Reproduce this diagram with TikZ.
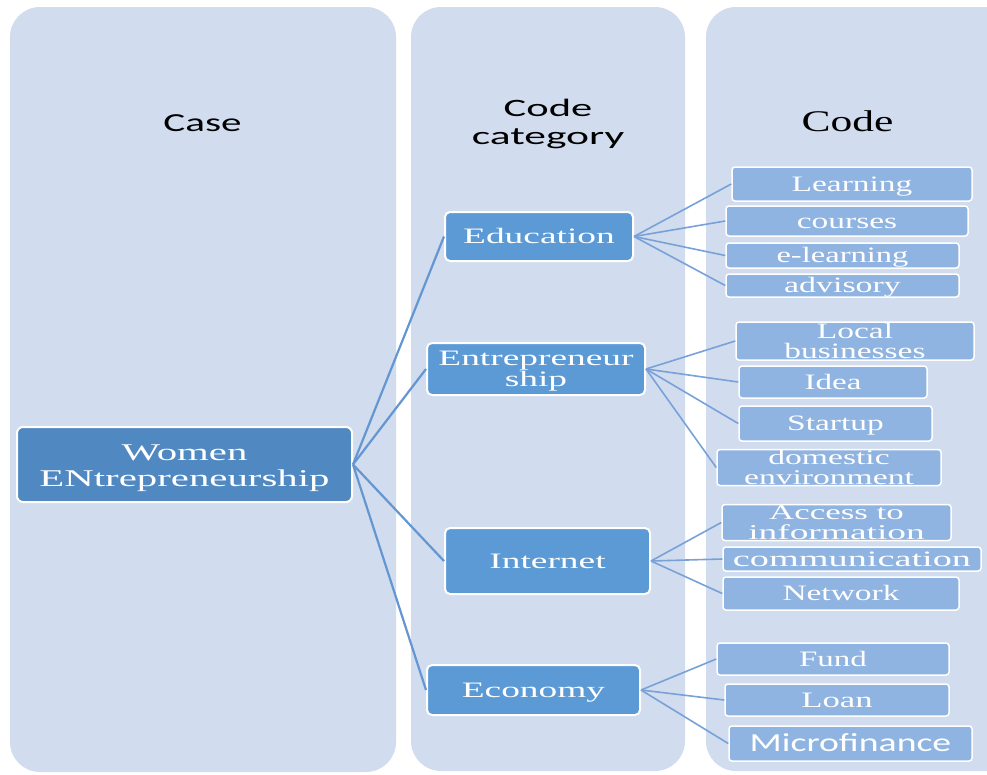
\documentclass[tikz,border=0pt]{standalone}
\usepackage{fontspec}
\setmainfont{Liberation Serif}
\newfontfamily\calfont{Carlito}
\usepackage{graphicx}
\newcommand{\hs}[2]{\scalebox{#1}[1]{#2}}
\definecolor{panelc}{RGB}{209,220,238}
\definecolor{womenc}{RGB}{80,136,194}
\definecolor{catc}{RGB}{92,154,214}
\definecolor{codec}{RGB}{143,180,225}
\definecolor{linec}{RGB}{100,150,210}
\definecolor{linec2}{RGB}{120,162,215}
\tikzset{
  panel/.style={fill=panelc, rounded corners=30pt},
  hdr/.style={text=black, inner sep=0pt, anchor=base},
  women/.style={draw=white, line width=2pt, fill=womenc, rounded corners=6pt, text=white, inner sep=0pt, align=center, font=\fontsize{24pt}{26pt}\selectfont},
  cat/.style={draw=white, line width=2pt, fill=catc, rounded corners=5pt, text=white, inner sep=0pt, align=center, font=\fontsize{22pt}{21pt}\selectfont},
  codebox/.style={draw=white, line width=1.5pt, fill=codec, rounded corners=3pt, text=white, inner sep=0pt, align=center, font=\fontsize{22pt}{20pt}\selectfont},
  oneline/.style={text height=14.5pt, text depth=0pt},
  mainline/.style={draw=linec, line width=2.2pt},
  codeline/.style={draw=linec2, line width=1.6pt}
}
\begin{document}
\begin{tikzpicture}[x=1pt,y=-1pt]
\useasboundingbox (0,0) rectangle (987,774);
\clip (0,0) rectangle (987,774);
\fill[white] (0,0) rectangle (987,774);
% panels
\fill[panel] (10,7) rectangle (396,772);
\fill[panel] (411,7) rectangle (685,771);
\fill[panel] (706,7) rectangle (1030,771);
% headers
\node[hdr, font=\calfont\fontsize{26pt}{28pt}\selectfont] (hcase) at (202.5,131) {\hs{1.58}{Case}};
\node[text=black, inner sep=0pt, align=center, font=\calfont\fontsize{25pt}{28pt}\selectfont] (hcat) at (548,124) {\hs{1.7}{Code}\\\hs{1.74}{category}};
\node[hdr, font=\fontsize{30pt}{32pt}\selectfont] (hcode) at (847.5,131) {\hs{1.45}{Code}};
% main node
\node[women, minimum width=335pt, minimum height=75pt] (we) at (184.5,464.5) {\rule{0pt}{24pt}\hs{1.7}{Women}\\\hs{1.7}{ENtrepreneurship}};
% categories
\node[cat, oneline, minimum width=188pt, minimum height=49pt] (edu) at (539,236.5) {\hs{1.7}{Education}};
\node[cat, minimum width=218pt, minimum height=52pt] (ent) at (536,369) {\rule{0pt}{18.5pt}\hs{1.7}{Entrepreneur}\\\hs{1.7}{ship}};
\node[cat, oneline, minimum width=205pt, minimum height=66pt] (inet) at (547.5,561) {\hs{1.7}{Internet}};
\node[cat, oneline, minimum width=213pt, minimum height=50pt] (eco) at (533.5,690) {\hs{1.7}{Economy}};
% codes
\node[codebox, oneline, minimum width=240pt, minimum height=34pt] (learn) at (852,184) {\hs{1.52}{Learning}};
\node[codebox, oneline, minimum width=242pt, minimum height=30pt] (cour) at (847,221) {\hs{1.52}{courses}};
\node[codebox, oneline, minimum width=233pt, minimum height=25pt] (elearn) at (842.5,255.5) {\hs{1.48}{e-learning}};
\node[codebox, oneline, minimum width=233pt, minimum height=23pt] (adv) at (842.5,285.5) {\hs{1.54}{advisory}};
\node[codebox, minimum width=238pt, minimum height=38pt] (local) at (855,341) {\hs{1.52}{Local}\\\hs{1.52}{businesses}};
\node[codebox, oneline, minimum width=188pt, minimum height=32pt] (idea) at (833,382) {\hs{1.5}{Idea}};
\node[codebox, oneline, minimum width=193pt, minimum height=35pt] (start) at (835.5,423.5) {\hs{1.52}{Startup}};
\node[codebox, minimum width=224pt, minimum height=36pt, font=\fontsize{21pt}{20pt}\selectfont] (dom) at (829,467.5) {\hs{1.6}{domestic}\\\hs{1.6}{environment}};
\node[codebox, minimum width=229pt, minimum height=36pt, font=\fontsize{21pt}{20pt}\selectfont] (acc) at (836.5,522.5) {\hs{1.66}{Access to}\\\hs{1.78}{information}};
\node[codebox, oneline, minimum width=258pt, minimum height=24pt, yshift=-1pt] (comm) at (852,558) {\hs{1.74}{communication}};
\node[codebox, oneline, minimum width=236pt, minimum height=33pt] (net) at (841,593.5) {\hs{1.52}{Network}};
\node[codebox, oneline, minimum width=232pt, minimum height=32pt] (fund) at (833,659) {\hs{1.5}{Fund}};
\node[codebox, oneline, minimum width=224pt, minimum height=32pt] (loan) at (837,700) {\hs{1.58}{Loan}};
\node[codebox, minimum width=243pt, minimum height=35pt, text height=16.7pt, text depth=0pt, font=\calfont\fontsize{26pt}{26pt}\selectfont] (micro) at (850.5,743.5) {\hs{1.45}{Microfinance}};
% connectors
\draw[mainline] (we.east) -- (edu.west);
\draw[mainline] (we.east) -- (ent.west);
\draw[mainline] (we.east) -- (inet.west);
\draw[mainline] (we.east) -- (eco.west);
\foreach \c in {learn,cour,elearn,adv} \draw[codeline] (edu.east) -- (\c.west);
\foreach \c in {local,idea,start,dom} \draw[codeline] (ent.east) -- (\c.west);
\foreach \c in {acc,comm,net} \draw[codeline] (inet.east) -- (\c.west);
\foreach \c in {fund,loan,micro} \draw[codeline] (eco.east) -- (\c.west);
\end{tikzpicture}
\end{document}
